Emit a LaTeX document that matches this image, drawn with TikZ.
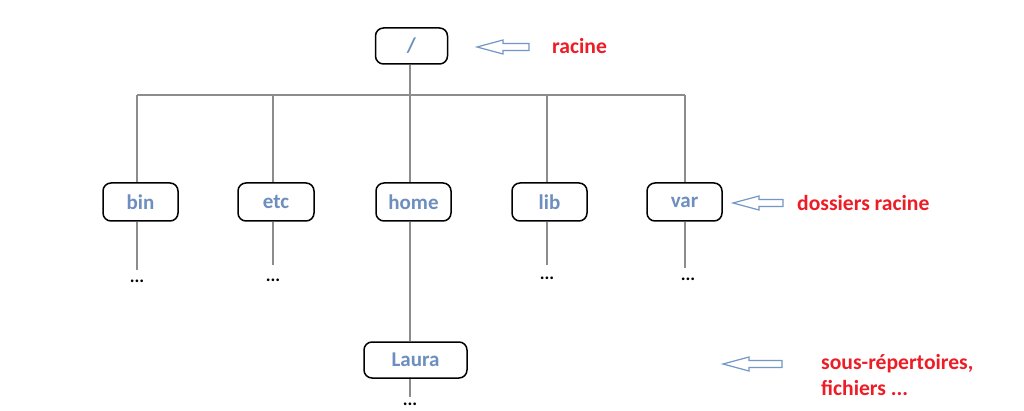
\documentclass[tikz,border=0pt]{standalone}
\usepackage{fontspec}
\setmainfont{Carlito}
\definecolor{nodeblue}{HTML}{6D8EBF}
\definecolor{arrowblue}{HTML}{7397C7}
\definecolor{labelred}{HTML}{EE1C25}
\definecolor{linegray}{HTML}{8C8C8C}
\tikzset{
  dirbox/.style={draw=black, line width=1.5pt, rounded corners=8pt, inner sep=0pt,
    text=nodeblue, font=\bfseries\fontsize{21}{25}\selectfont},
  conn/.style={draw=linegray, line width=2pt},
  dotsnode/.style={inner sep=0pt, font=\bfseries\fontsize{18}{20}\selectfont},
  redlabel/.style={text=labelred, font=\bfseries\fontsize{21.6}{26}\selectfont, anchor=west, inner sep=0pt, align=left},
  hollowarrow/.style={draw=arrowblue, line width=1.2pt, fill=white},
  larrow/.pic={\path[hollowarrow] (0,0) -- (26,-7) -- (26,-3.5) -- (#1,-3.5) -- (#1,3.5) -- (26,3.5) -- (26,7) -- cycle;}
}
\begin{document}
\begin{tikzpicture}[x=1pt,y=-1pt]
\useasboundingbox[fill=white] (0,0) rectangle (1024,411);

% nodes
\node[dirbox, minimum width=72pt, minimum height=36pt] (root) at (411.5,46) {/};
\node[dirbox, minimum width=75pt, minimum height=38pt] (bin) at (140.5,202) {bin};
\node[dirbox, minimum width=76pt, minimum height=38pt] (etc) at (276,202) {etc};
\node[dirbox, minimum width=75pt, minimum height=38pt] (home) at (413.5,202) {home};
\node[dirbox, minimum width=75pt, minimum height=38pt] (lib) at (549.5,202) {lib};
\node[dirbox, minimum width=75pt, minimum height=38pt] (var) at (684.5,202) {var};
\node[dirbox, minimum width=103pt, minimum height=36pt] (laura) at (415.5,360) {Laura};

% bus coordinates
\coordinate (dBin) at (137,95);
\coordinate (dEtc) at (273,95);
\coordinate (dHome) at (410,95);
\coordinate (dLib) at (547,95);
\coordinate (dVar) at (685,95);

% dots
\node[dotsnode] (binDots) at (137,281) {...};
\node[dotsnode] (etcDots) at (273,280) {...};
\node[dotsnode] (libDots) at (547,278) {...};
\node[dotsnode] (varDots) at (688,279) {...};
\node[dotsnode] (lauraDots) at (410,404) {...};

% connectors
\draw[conn] (root.south -| dHome) -- (dHome);
\draw[conn] (dBin) -- (dVar);
\draw[conn] (dBin) -- (dBin |- bin.north);
\draw[conn] (dEtc) -- (dEtc |- etc.north);
\draw[conn] (dHome) -- (dHome |- home.north);
\draw[conn] (dLib) -- (dLib |- lib.north);
\draw[conn] (dVar) -- (dVar |- var.north);
\draw[conn] (dBin |- bin.south) -- ([yshift=9pt]binDots.north -| dBin);
\draw[conn] (dEtc |- etc.south) -- ([yshift=13pt]etcDots.north -| dEtc);
\draw[conn] (dLib |- lib.south) -- ([yshift=11pt]libDots.north -| dLib);
\draw[conn] (dVar |- var.south) -- ([yshift=9pt]varDots.north -| dVar);
\draw[conn] (dHome |- home.south) -- (dHome |- laura.north);
\draw[conn] (dHome |- laura.south) -- ([yshift=5pt]lauraDots.north -| dHome);

% hollow arrows
\pic at (477,47) {larrow=52};
\pic at (733,203) {larrow=50};
\pic at (723,364) {larrow=59};

% red labels
\node[redlabel] (lblRoot) at (552,46) {racine};
\node[redlabel] (lblDirs) at (797,203) {dossiers racine};
\node[redlabel] (lblSub) at (821,375) {sous-répertoires,\\fichiers ...};
\end{tikzpicture}
\end{document}
